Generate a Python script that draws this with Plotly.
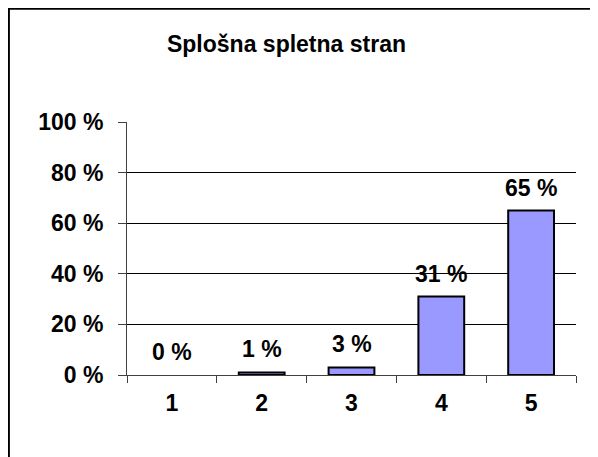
import plotly.graph_objects as go

categories = ["1", "2", "3", "4", "5"]
values = [0, 1, 3, 31, 65]
value_labels = ["0 %", "1 %", "3 %", "31 %", "65 %"]
y_tick_values = [0, 20, 40, 60, 80, 100]
y_tick_labels = ["0 %", "20 %", "40 %", "60 %", "80 %", "100 %"]
grid_values = [20, 40, 60, 80]
title_text = "Splošna spletna stran"

# the page body has an 8px default margin, so the figure is 8px smaller
OFF = 8
W, H = 598 - OFF, 457 - OFF
L, R, T, B = 127 - OFF, 22, 122 - OFF, 82
pw, ph = W - L - R, H - T - B

FONT = "Liberation Sans, Arial, sans-serif"

fig = go.Figure()
fig.add_trace(go.Bar(
    x=categories, y=values,
    marker=dict(color="#9999FF",
                line=dict(color="black", width=[0 if v == 0 else 2 for v in values])),
    width=0.51,
    hoverinfo="skip",
))

for i, (v, t) in enumerate(zip(values, value_labels)):
    fig.add_annotation(x=i, y=v, text=t, showarrow=False, yanchor="middle",
                       yshift=23, font=dict(family=FONT, size=23, color="black", weight="bold"))

# chart frame (left and top edges, as in the reference)
fig.add_shape(type="line", xref="paper", yref="paper",
              x0=-L / pw + 0.002, x1=-L / pw + 0.002, y0=-B / ph - 0.05, y1=1 + T / ph - 0.003,
              line=dict(color="black", width=2))
fig.add_shape(type="line", xref="paper", yref="paper",
              x0=-L / pw, x1=1 + (R + 5) / pw, y0=1 + T / ph - 0.003, y1=1 + T / ph - 0.003,
              line=dict(color="black", width=2))

fig.update_layout(
    width=W, height=H,
    margin=dict(l=L, r=R, t=T, b=B, pad=0, autoexpand=False),
    paper_bgcolor="white", plot_bgcolor="white",
    showlegend=False,
    title=dict(text=title_text, x=(286.5 - OFF) / W, xanchor="center",
               y=1 - (44 - OFF) / H, yanchor="middle",
               font=dict(family=FONT, size=23, color="black", weight="bold")),
    bargap=0.49,
)
fig.update_xaxes(
    type="category", range=[-0.5, 4.5],
    showline=True, linecolor="#404040", linewidth=1,
    ticks="outside", tickson="boundaries", ticklen=7, tickcolor="#404040",
    tickfont=dict(family=FONT, size=23, color="black", weight="bold"),
    ticklabelstandoff=7,
    showgrid=False, zeroline=False,
)
fig.update_yaxes(
    range=[0, 100], tickvals=y_tick_values, ticktext=y_tick_labels,
    showline=True, linecolor="#404040", linewidth=1,
    ticks="outside", ticklen=8, tickcolor="#404040",
    tickfont=dict(family=FONT, size=23, color="black", weight="bold"),
    ticklabelstandoff=10,
    showgrid=False, zeroline=False,
    minor=dict(tickmode="array", tickvals=grid_values, showgrid=True,
               gridcolor="black", gridwidth=1, ticks=""),
)

fig.write_html("out.html")
